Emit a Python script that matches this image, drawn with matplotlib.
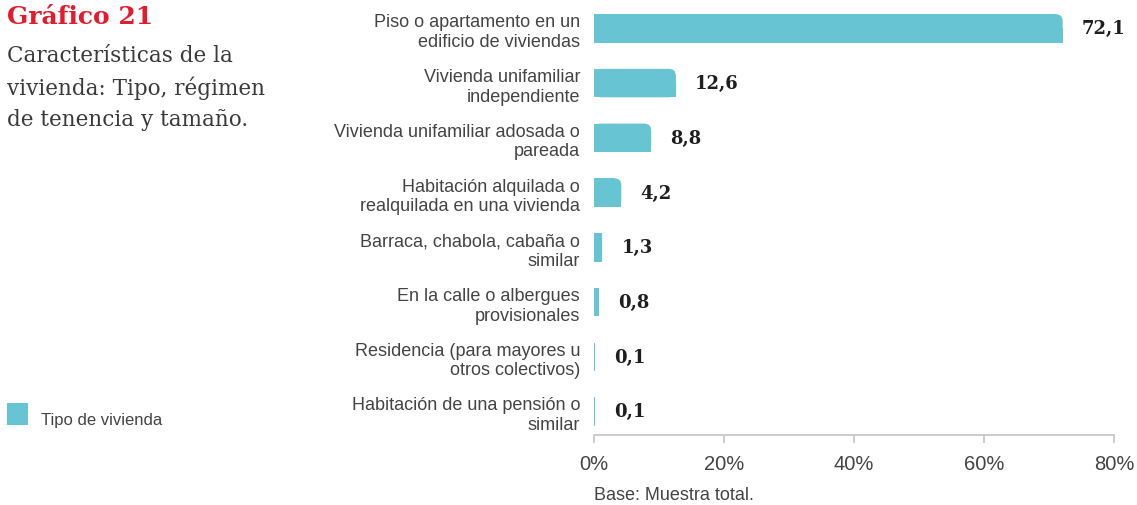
import matplotlib.pyplot as plt
from matplotlib.patches import FancyBboxPatch, Rectangle

categorias = [
    "Piso o apartamento en un\nedificio de viviendas",
    "Vivienda unifamiliar\nindependiente",
    "Vivienda unifamiliar adosada o\npareada",
    "Habitación alquilada o\nrealquilada en una vivienda",
    "Barraca, chabola, cabaña o\nsimilar",
    "En la calle o albergues\nprovisionales",
    "Residencia (para mayores u\notros colectivos)",
    "Habitación de una pensión o\nsimilar",
]
valores = [72.1, 12.6, 8.8, 4.2, 1.3, 0.8, 0.1, 0.1]
etiquetas = ["72,1", "12,6", "8,8", "4,2", "1,3", "0,8", "0,1", "0,1"]
ticks_x = [0, 20, 40, 60, 80]
ticks_lbl = ["0%", "20%", "40%", "60%", "80%"]

azul = "#67c4d3"
gris = "#3a3a3a"
rojo = "#e31b2e"
serif = "DejaVu Serif"
sans = "Liberation Sans"

W, H = 1137, 506
fig = plt.figure(figsize=(W / 100, H / 100), dpi=100)
ax = fig.add_axes([594 / W, 1 - 436 / H, (1114 - 594) / W, (436 - 2) / H])

y = list(range(len(valores)))
alto = 0.52
bars = ax.barh(y, valores, height=alto, color=azul, edgecolor="none")
ax.set_xlim(0, 80)
ax.set_ylim(7.43, -0.5)

# only the top right corner is rounded
px_x = 80 / (1114 - 594)
px_y = 7.93 / (436 - 2)
r = 7 * px_x
for yi, b in zip(y, bars):
    w = b.get_width()
    if w > 3 * r:
        b.set_width(w - r)
        ax.barh(yi + alto / 4, w, height=alto / 2, color=azul, edgecolor="none")
        ax.add_patch(FancyBboxPatch((0, yi - alto / 2), w, alto,
                                    boxstyle=f"round,pad=0,rounding_size={r}",
                                    mutation_aspect=px_y / px_x,
                                    facecolor=azul, edgecolor="none"))

for yi, v, t in zip(y, valores, etiquetas):
    ax.text(v + 19 * px_x, yi, t, va="center", ha="left", fontsize=13,
            fontweight="bold", family=serif, color="#1e1e1e")

ax.set_yticks(y)
ax.set_yticklabels(categorias, fontsize=13, color="#444444", family=sans,
                   linespacing=1.2)
ax.tick_params(axis="y", length=0, pad=10)
ax.set_xticks(ticks_x)
ax.set_xticklabels(ticks_lbl, fontsize=14.5, color="#444444", family=sans)
ax.tick_params(axis="x", length=6, color="#c8c8c8", width=1.3, pad=8)
for s in ["top", "right", "left"]:
    ax.spines[s].set_visible(False)
ax.spines["bottom"].set_color("#c8c8c8")
ax.spines["bottom"].set_linewidth(1.3)

fig.text(7 / W, 1 - 17 / H, "Gráfico 21", fontsize=18, fontweight="bold",
         family=serif, color=rojo, va="center", ha="left")
fig.text(7 / W, 1 - 88 / H, "Características de la\nvivienda: Tipo, régimen\nde tenencia y tamaño.",
         fontsize=15.5, family=serif, color=gris, va="center", ha="left",
         linespacing=1.5)
fig.text(594 / W, 1 - 496 / H, "Base: Muestra total.", fontsize=13,
         family=sans, color="#444444", va="center", ha="left")

# leyenda
fig.add_artist(Rectangle((7 / W, 1 - 426 / H), 21 / W, 22 / H,
                         transform=fig.transFigure, facecolor=azul, edgecolor="none"))
fig.text(41 / W, 1 - 421 / H, "Tipo de vivienda", fontsize=12, family=sans,
         color="#444444", va="center", ha="left")

fig.savefig("out.png", dpi=100)
